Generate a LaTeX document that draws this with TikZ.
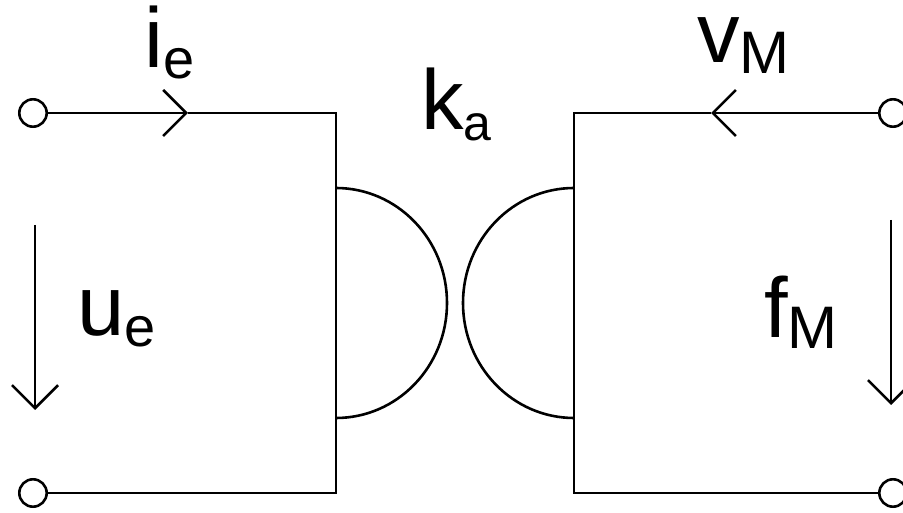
\documentclass[tikz,border=0pt]{standalone}
\usepackage{fontspec}
\setmainfont{Liberation Sans}
\usepackage{tikz}
\usetikzlibrary{arrows.meta,shapes,calc}
\usetikzlibrary{positioning}
\newcommand\sublabel[3][56]{% index size, main letter, index
  #2\raisebox{-11pt}{\fontsize{#1}{#1}\selectfont #3}%
}

\begin{document}
\begin{tikzpicture}[x=1pt,y=1pt,
    wire/.style={line width=2.6pt},
    term/.style={circle,draw,line width=2.6pt,minimum size=27.4pt,inner sep=0pt},
    flow/.style={line width=2.6pt,-{Straight Barb[length=23pt,width=46pt]}},
    lbl/.style={inner sep=0pt,anchor=base west,font=\fontsize{85}{85}\selectfont}]
  \useasboundingbox (0,0) rectangle (903,512);
  % terminals
  \node[term] (t1) at (33,399) {};
  \node[term] (t2) at (33,19) {};
  \node[term] (t3) at (893,399) {};
  \node[term] (t4) at (893,19) {};
  % corners of the two boxes
  \coordinate (c1) at (336,399);
  \coordinate (c2) at (336,19);
  \coordinate (c3) at (574,399);
  \coordinate (c4) at (574,19);
  \coordinate (a1) at (336,324);
  \coordinate (a3) at (574,324);
  % arrow tips
  \coordinate (ie) at (188,399);
  \coordinate (vm) at (711,399);
  \draw[flow] (t1) -- (ie);
  \draw[wire] (ie) -- (c1) -- (c2) -- (t2);
  \draw[wire] (a1) arc[start angle=90,end angle=-90,x radius=111,y radius=115];
  \draw[flow] (t3) -- (vm);
  \draw[wire] (vm) -- (c3) -- (c4) -- (t4);
  \draw[wire] (a3) arc[start angle=90,end angle=270,x radius=111,y radius=115];
  % across quantities
  \coordinate (u1) at (35,287);
  \coordinate (u2) at (35,102);
  \coordinate (f1) at (891,292);
  \coordinate (f2) at (891,107);
  \draw[flow] (u1) -- (u2);
  \draw[flow] (f1) -- (f2);
  % labels
  \node[lbl] (lie) at (144,444) {\sublabel{i}{e}};
  \node[lbl] (lka) at (421,382) {\sublabel[50]{k}{a}};
  \node[lbl,text height=45pt] (lvm) at (697,449) {\sublabel[60]{v}{M}};
  \node[lbl] (lue) at (77,176) {\sublabel{u}{e}};
  \node[lbl] (lfm) at (764,174) {\sublabel[60]{f}{M}};
\end{tikzpicture}
\end{document}
